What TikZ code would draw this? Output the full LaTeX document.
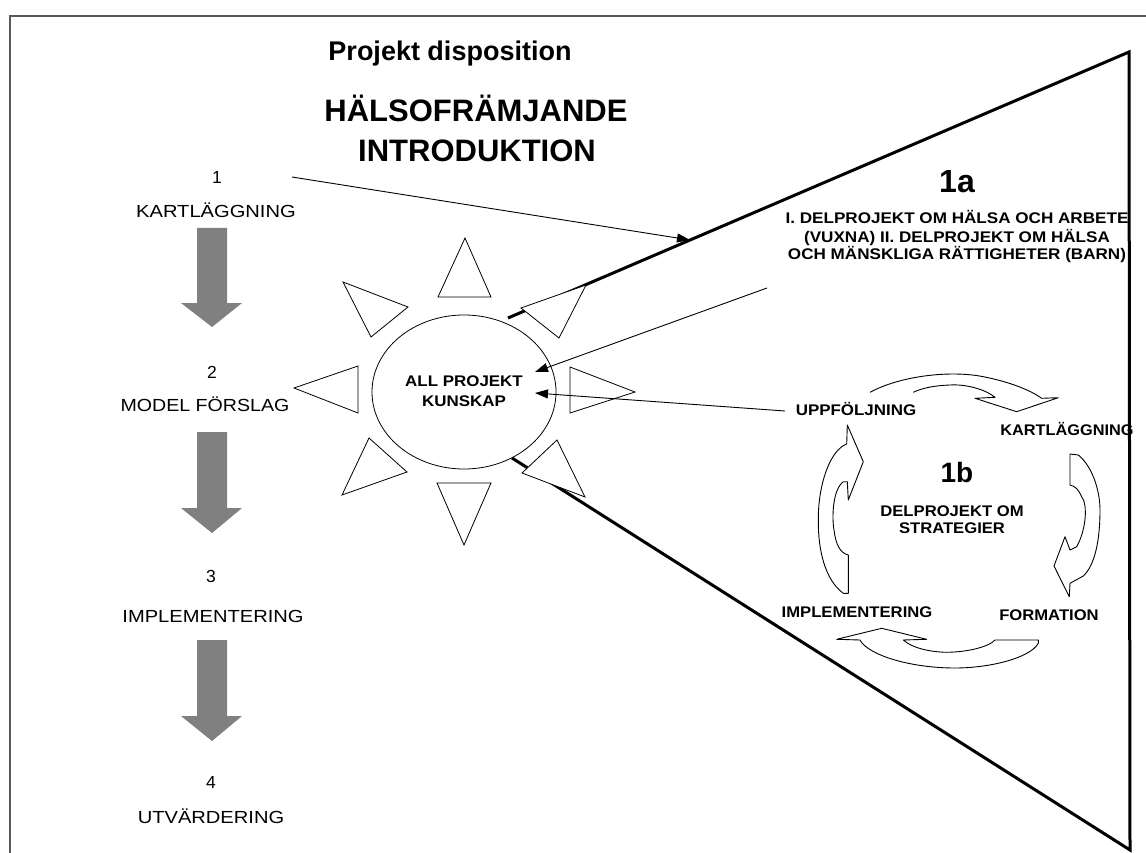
\documentclass[tikz,border=0pt]{standalone}
\usepackage{fontspec}
\usepackage{graphicx}
\setmainfont{Liberation Sans}
\usetikzlibrary{arrows.meta,shapes.geometric}
\newcommand\fReg{\fontsize{17.5}{20}\selectfont}
\newcommand\fSm{\fontsize{15.4}{20}\selectfont\bfseries}
\newcommand\sx[2]{\scalebox{#1}[1]{#2}}
\begin{document}
\begin{tikzpicture}[x=1pt,y=-1pt,
  frame/.style={draw=black!65, line width=1.5pt},
  edge/.style={line width=3pt, line join=miter},
  ray/.style={draw=black, fill=white, line width=0.8pt},
  cyc/.style={draw=black, line width=0.9pt, line join=round},
  grayarrow/.style={fill=black!50},
  link/.style={line width=0.9pt, -{Triangle[length=13pt,width=9pt]}},
  txt/.style={inner sep=0pt, anchor=base},
]
\useasboundingbox (0,0) rectangle (1146,853);
\fill[white] (0,0) rectangle (1146,853);
% frame (cut by the picture edge)
\draw[frame] (10,853) -- (10,16) -- (1146,16);

% titles
\node[txt] (title) at (450,61) {\fontsize{27}{32}\selectfont\bfseries Projekt disposition};
\node[txt] (hal) at (476,122) {\fontsize{31}{36}\selectfont\bfseries HÄLSOFRÄMJANDE};
\node[txt] (intro) at (477,162) {\fontsize{31}{36}\selectfont\bfseries INTRODUKTION};

% left column
\node[txt] (n1) at (217,184) {\fReg 1};
\node[txt] (k1) at (216,218) {\fReg\sx{1.15}{KARTLÄGGNING}};
\node[txt] (n2) at (212,378) {\fReg 2};
\node[txt] (k2) at (205,411) {\fReg\sx{1.12}{MODEL FÖRSLAG}};
\node[txt] (n3) at (211,582) {\fReg 3};
\node[txt] (k3) at (213,622) {\fReg\sx{1.15}{IMPLEMENTERING}};
\node[txt] (n4) at (211,788) {\fReg 4};
\node[txt] (k4) at (211,823) {\fReg\sx{1.15}{UTVÄRDERING}};

\fill[grayarrow] (197,228) -- (227,228) -- (227,303) -- (242,303) -- (212,327) -- (181,303) -- (197,303) -- cycle;
\fill[grayarrow] (197,432) -- (227,432) -- (227,508) -- (242,508) -- (212,533) -- (181,508) -- (197,508) -- cycle;
\fill[grayarrow] (197,640) -- (227,640) -- (227,716) -- (242,716) -- (212,741) -- (181,716) -- (197,716) -- cycle;

% big wedge
\draw[edge] (508,318) -- (1129,52) -- (1130,850) -- (512,458);

% sun rays
\draw[ray] (438,297) -- (491,297) -- (465,238) -- cycle;
\draw[ray] (437,483) -- (491,483) -- (464,545) -- cycle;
\draw[ray] (358,366) -- (358,413) -- (294,388) -- cycle;
\draw[ray] (570,367) -- (570,413) -- (635,392) -- cycle;
\draw[ray] (343,282) -- (408,307) -- (371,337) -- cycle;
\draw[ray] (586,285) -- (521,308) -- (559,338) -- cycle;
\draw[ray] (342,495) -- (369,438) -- (407,472) -- cycle;
\draw[ray] (585,497) -- (557,440) -- (522,473) -- cycle;

% core
\node[ellipse, draw, fill=white, line width=0.8pt, minimum width=184pt, minimum height=154pt,
      inner sep=0pt] (core) at (464,392) {};
\node[txt] (c1) at (464,386) {\fSm\sx{1.1}{ALL PROJEKT}};
\node[txt] (c2) at (464,406) {\fSm\sx{1.1}{KUNSKAP}};

% 1a block
\node[txt] (t1a) at (957,193) {\fontsize{32}{36}\selectfont\bfseries 1a};
\node[txt] (a1) at (957,223.5) {\fSm\sx{1.11}{I. DELPROJEKT OM HÄLSA OCH ARBETE}};
\node[txt] (a2) at (957,242.5) {\fSm\sx{1.11}{(VUXNA) II. DELPROJEKT OM HÄLSA}};
\node[txt] (a3) at (957,259.5) {\fSm\sx{1.11}{OCH MÄNSKLIGA RÄTTIGHETER (BARN)}};

% 1b cycle
\node[txt] (t1b) at (957,482) {\fontsize{28}{32}\selectfont\bfseries 1b};
\node[txt] (b1) at (952,516.5) {\fSm\sx{1.08}{DELPROJEKT OM}};
\node[txt] (b2) at (952,533.5) {\fSm\sx{1.08}{STRATEGIER}};
\node[txt] (upp) at (856,415.5) {\fSm\sx{1.1}{UPPFÖLJNING}};
\node[txt] (kar) at (1067,435) {\fSm\sx{1.06}{KARTLÄGGNING}};
\node[txt] (imp) at (857,617.5) {\fSm\sx{1.08}{IMPLEMENTERING}};
\node[txt] (form) at (1049,620) {\fSm\sx{1.08}{FORMATION}};

% cycle arrows
\draw[cyc] (870,392.3) .. controls (900,376) and (950,370) .. (983.3,376.7)
  .. controls (1010,382) and (1030,390) .. (1041.7,398.3)
  -- (1058.3,397.7) -- (1016.7,411.7) -- (975,398.3) -- (995,397.3)
  .. controls (985,389) and (965,384) .. (950,385)
  .. controls (935,385.5) and (922,388) .. (913.3,392.3);
\draw[cyc] (1070,454) -- (1078.3,455)
  .. controls (1092,466) and (1100,490) .. (1100,510)
  .. controls (1100,540) and (1095,565) .. (1083.3,576)
  -- (1070,583.3) -- (1069.3,596.7) -- (1054,566) -- (1065,536.7) -- (1070,550) -- (1076.7,546.7)
  .. controls (1086,530) and (1088,505) .. (1081.7,496.7)
  .. controls (1079,490) and (1075,486) .. (1070,485) -- cycle;
\draw[cyc] (836.7,639.3) -- (881.7,628.3) -- (926.7,639.3) -- (903.3,640)
  .. controls (912,648) and (930,652) .. (946.7,652.3)
  .. controls (970,652) and (990,646) .. (995,640)
  -- (1038.3,640) -- (1038.3,643.3)
  .. controls (1030,658) and (990,668) .. (955,668)
  .. controls (910,668) and (868,655) .. (860,640) -- cycle;
\draw[cyc] (847.3,425) -- (863.3,461.7) -- (848.3,500) -- (847.3,481.7) -- (843.3,481.7)
  .. controls (832,490) and (832,520) .. (834,530)
  .. controls (836,545) and (840,553) .. (848.3,555)
  -- (848.3,593.3) -- (843.3,593.3)
  .. controls (825,580) and (818,550) .. (818.3,520)
  .. controls (818,485) and (830,450) .. (846.7,444) -- cycle;

% links
\coordinate (s1) at (292,177);
\coordinate (hit) at (690,240);
\coordinate (s2) at (767,288);
\coordinate (e2) at (535,372);
\coordinate (s3) at (785,411);
\coordinate (e3) at (535,393);
\draw[link] (s1) -- (hit);
\draw[link] (s2) -- (e2);
\draw[link] (s3) -- (e3);
\end{tikzpicture}
\end{document}
